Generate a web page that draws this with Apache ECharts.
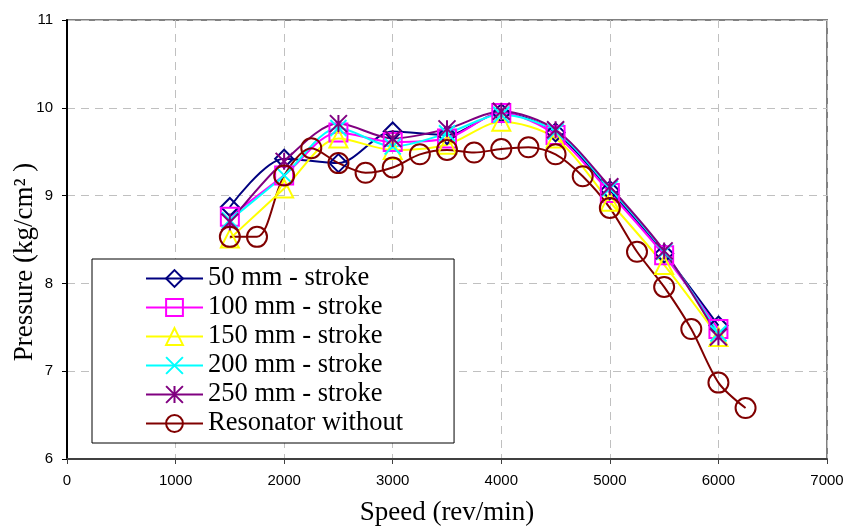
<!DOCTYPE html>
<html>
<head>
<meta charset="utf-8">
<script src="https://cdn.jsdelivr.net/npm/echarts@6/dist/echarts.min.js"></script>
<style>
  html, body { margin: 0; padding: 0; background: #fff; }
  #chart { width: 847px; height: 527px; }
</style>
</head>
<body>
<div id="chart"></div>
<script>
// speeds (rev/min) for the stroke series
var speeds = [1500, 2000, 2500, 3000, 3500, 4000, 4500, 5000, 5500, 6000];
var stroke50 = [8.87, 9.42, 9.37, 9.73, 9.69, 9.94, 9.72, 9.06, 8.34, 7.52];
var stroke100 = [8.76, 9.23, 9.72, 9.61, 9.65, 9.94, 9.69, 9.03, 8.32, 7.48];
var stroke150 = [8.51, 9.08, 9.65, 9.52, 9.58, 9.84, 9.65, 8.93, 8.21, 7.39];
var stroke200 = [8.72, 9.23, 9.77, 9.56, 9.71, 9.92, 9.73, 9.08, 8.36, 7.43];
var stroke250 = [8.70, 9.39, 9.82, 9.65, 9.76, 9.96, 9.75, 9.10, 8.37, 7.39];

// without resonator, every 250 rev/min
var resoSpeeds = [1500, 1750, 2000, 2250, 2500, 2750, 3000, 3250, 3500, 3750,
                  4000, 4250, 4500, 4750, 5000, 5250, 5500, 5750, 6000, 6250];
var resoNone = [8.53, 8.53, 9.23, 9.54, 9.37, 9.26, 9.32, 9.47, 9.52, 9.49,
                9.53, 9.55, 9.47, 9.22, 8.86, 8.36, 7.96, 7.48, 6.87, 6.58];

var names = ['50 mm - stroke', '100 mm - stroke', '150 mm - stroke',
             '200 mm - stroke', '250 mm - stroke', 'Resonator without'];

function pairs(xs, ys) {
  return xs.map(function(x, i) { return [x, ys[i]]; });
}

var crossPath = 'path://M0 0L10 10M10 0L0 10';
var starPath = 'path://M0 0L10 10M10 0L0 10M5 0L5 10';

function makeSeries(name, data, color, symbol, size) {
  return {
    name: name,
    type: 'line',
    data: data,
    smooth: 0.3,
    symbol: symbol,
    symbolSize: size,
    lineStyle: { color: color, width: 2 },
    itemStyle: { color: 'rgba(0,0,0,0)', borderColor: color, borderWidth: 2 },
    emphasis: { disabled: true }
  };
}

var chart = echarts.init(document.getElementById('chart'), null, { renderer: 'canvas' });

chart.setOption({
  animation: false,
  backgroundColor: '#fff',
  grid: {
    left: 67, right: 20, top: 20, bottom: 68,
    outerBoundsMode: 'none',
    containLabel: false,
    show: true, borderColor: '#808080', borderWidth: 2
  },
  // y axis title, placed like the original (a little below the middle)
  graphic: [{
    type: 'text',
    x: 25, y: 262,
    rotation: Math.PI / 2,
    style: {
      text: 'Pressure (kg/cm² )',
      fontFamily: 'Liberation Serif', fontSize: 27, fill: '#000',
      align: 'center', verticalAlign: 'middle'
    }
  }],
  legend: {
    orient: 'vertical',
    left: 92, top: 259,
    data: names,
    backgroundColor: '#fff',
    borderColor: '#000',
    borderWidth: 1,
    borderRadius: 0,
    padding: [6, 51, 6, 53],
    itemWidth: 57,
    itemHeight: 21,
    itemGap: 2,
    textStyle: {
      fontFamily: 'Liberation Serif', fontSize: 26.5, lineHeight: 25, color: '#000'
    }
  },
  xAxis: {
    type: 'value',
    min: 0, max: 7000, interval: 1000,
    name: 'Speed (rev/min)',
    nameLocation: 'middle',
    nameGap: 40,
    nameTextStyle: { fontFamily: 'Liberation Serif', fontSize: 27, color: '#000' },
    axisLine: { lineStyle: { color: '#404040', width: 2 } },
    axisTick: { show: true, length: 5, lineStyle: { color: '#404040' } },
    axisLabel: {
      fontFamily: 'Liberation Sans', fontSize: 15, color: '#000', margin: 14,
      formatter: function(v) { return String(v); }
    },
    splitLine: { show: true, lineStyle: { color: '#c0c0c0', type: [8, 6], width: 1 } }
  },
  yAxis: {
    type: 'value',
    min: 6, max: 11, interval: 1,
    axisLine: { show: true, lineStyle: { color: '#000', width: 2 } },
    axisTick: { show: true, length: 5, lineStyle: { color: '#000' } },
    axisLabel: {
      fontFamily: 'Liberation Sans', fontSize: 15, color: '#000', margin: 14,
      formatter: function(v) { return String(v); }
    },
    splitLine: { show: true, lineStyle: { color: '#c0c0c0', type: [8, 6], width: 1 } }
  },
  series: [
    makeSeries(names[0], pairs(speeds, stroke50), '#000080', 'diamond', 18),
    makeSeries(names[1], pairs(speeds, stroke100), '#ff00ff', 'rect', 18),
    makeSeries(names[2], pairs(speeds, stroke150), '#ffff00', 'triangle', 18),
    makeSeries(names[3], pairs(speeds, stroke200), '#00ffff', crossPath, 16),
    makeSeries(names[4], pairs(speeds, stroke250), '#800080', starPath, 17),
    makeSeries(names[5], pairs(resoSpeeds, resoNone), '#800000', 'circle', 20)
  ]
});

window.addEventListener('resize', function() { chart.resize(); });
</script>
</body>
</html>
